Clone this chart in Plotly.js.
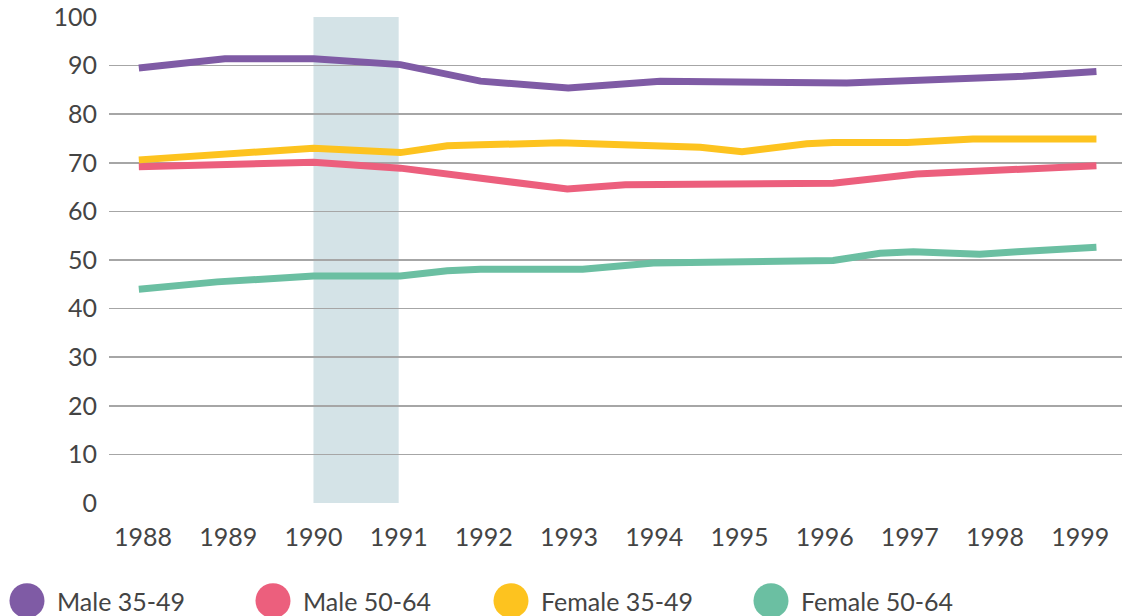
<!DOCTYPE html>
<html>
<head>
<meta charset="utf-8">
<script src="https://cdn.plot.ly/plotly-3.0.1.min.js"></script>
<style>html,body{margin:0;padding:0;background:#fff;}#chart{width:1122px;height:616px;}</style>
</head>
<body>
<div id="chart"></div>
<script>
// Series data (x in decimal years, y in %)
const seriesNames = ["Male 35-49", "Male 50-64", "Female 35-49", "Female 50-64"];
const seriesColors = ["#7F5BA5", "#EC5F7D", "#FDC31F", "#6BBFA2"];

const male3549X = [1987.95, 1988.96, 1990.0, 1991.02, 1991.96, 1992.99, 1994.07, 1996.26, 1998.33, 1999.19];
const male3549Y = [89.5, 91.4, 91.4, 90.2, 86.8, 85.4, 86.8, 86.4, 87.8, 88.8];

const male5064X = [1987.95, 1990.0, 1991.02, 1992.98, 1993.66, 1994.69, 1996.1, 1997.08, 1997.79, 1998.45, 1999.19];
const male5064Y = [69.2, 70.1, 68.9, 64.6, 65.5, 65.5, 65.8, 67.7, 68.2, 68.6, 69.4];

const female3549X = [1987.95, 1988.96, 1990.0, 1991.02, 1991.57, 1991.96, 1992.89, 1994.54, 1995.03, 1995.79, 1996.1, 1996.97, 1997.74, 1999.19];
const female3549Y = [70.6, 71.8, 73.0, 72.1, 73.5, 73.7, 74.1, 73.2, 72.3, 73.9, 74.2, 74.2, 74.9, 74.9];

const female5064X = [1987.95, 1988.87, 1990.0, 1991.02, 1991.57, 1991.96, 1993.16, 1993.99, 1996.1, 1996.65, 1997.04, 1997.82, 1998.26, 1999.19];
const female5064Y = [44.0, 45.5, 46.7, 46.7, 47.8, 48.1, 48.1, 49.4, 49.9, 51.4, 51.7, 51.2, 51.7, 52.6];

const tickYears = [1988, 1989, 1990, 1991, 1992, 1993, 1994, 1995, 1996, 1997, 1998, 1999];
const tickYearLabels = ["1988", "1989", "1990", "1991", "1992", "1993", "1994", "1995", "1996", "1997", "1998", "1999"];
const yTicks = [0, 10, 20, 30, 40, 50, 60, 70, 80, 90, 100];

// Shaded period
const bandStart = 1990;
const bandEnd = 1991;

const xs = [male3549X, male5064X, female3549X, female5064X];
const ys = [male3549Y, male5064Y, female3549Y, female5064Y];

const FONT = "Lato, 'Noto Sans', sans-serif";
const TEXT = "#444444";

const traces = seriesNames.map((n, i) => ({
  type: "scatter", mode: "lines", name: n,
  x: xs[i], y: ys[i],
  line: {color: seriesColors[i], width: 7},
  showlegend: false, hoverinfo: "skip"
}));

// Custom legend (big circles)
const legendCircleX = [27, 273, 511, 771];   // pixel centers
const plotLeft = 109, plotWidth = 1013, plotTop = 17.5, plotHeight = 485;
const legendY = -(600 - (plotTop + plotHeight)) / plotHeight;

const shapes = [{
  type: "rect", xref: "x", yref: "paper", x0: bandStart, x1: bandEnd, y0: 0, y1: 1,
  fillcolor: "#D4E3E7", line: {width: 0}, layer: "between"
}];
const annotations = [];
seriesNames.forEach((n, i) => {
  const px = (legendCircleX[i] - plotLeft) / plotWidth;
  shapes.push({
    type: "circle", xref: "paper", yref: "paper",
    xsizemode: "pixel", ysizemode: "pixel",
    xanchor: px, yanchor: legendY,
    x0: -17.5, x1: 17.5, y0: -17.5, y1: 17.5,
    fillcolor: seriesColors[i], line: {width: 0}
  });
  annotations.push({
    xref: "paper", yref: "paper", x: px, y: legendY,
    xshift: 28, xanchor: "left", yanchor: "middle",
    text: n, showarrow: false,
    font: {family: FONT, size: 25, color: TEXT}
  });
});

const layout = {
  width: 1122, height: 616,
  margin: {l: plotLeft, r: 0, t: 17, b: 113},
  paper_bgcolor: "#ffffff", plot_bgcolor: "#ffffff",
  showlegend: false,
  xaxis: {
    range: [1987.6, 1999.49],
    tickvals: tickYears, ticktext: tickYearLabels,
    showgrid: false, zeroline: false, showline: false, ticks: "",
    ticklabelstandoff: 17,
    tickfont: {family: FONT, size: 25, color: TEXT}
  },
  yaxis: {
    range: [0, 100],
    tickvals: yTicks,
    showgrid: true, gridcolor: "#A6A6A6", gridwidth: 1.5,
    zeroline: false, showline: false, ticks: "",
    ticklabelstandoff: 11,
    tickfont: {family: FONT, size: 25, color: TEXT}
  },
  shapes: shapes,
  annotations: annotations
};

Plotly.newPlot("chart", traces, layout, {displayModeBar: false, staticPlot: true});
</script>
</body>
</html>
